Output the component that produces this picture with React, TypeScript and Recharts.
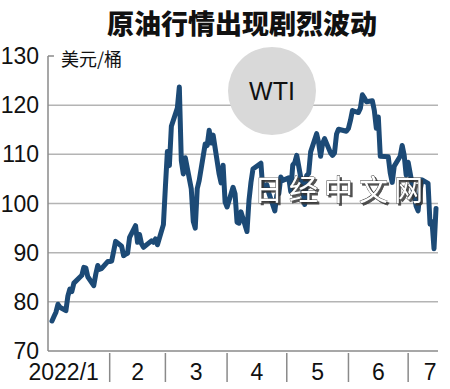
import React from "react";
import { LineChart, Line, XAxis, YAxis, ReferenceLine } from "recharts";

// WTI daily close, 2022 (month/day -> USD per barrel)
const DATES = [
  "1/3", "1/4", "1/5", "1/6", "1/7", "1/10", "1/11", "1/12", "1/13", "1/14",
  "1/18", "1/19", "1/20", "1/21", "1/24", "1/25", "1/26", "1/27", "1/28", "1/31",
  "2/1", "2/2", "2/3", "2/4", "2/7", "2/8", "2/9", "2/10", "2/11", "2/14",
  "2/15", "2/16", "2/17", "2/18", "2/22", "2/23", "2/24", "2/25", "2/28",
  "3/1", "3/2", "3/3", "3/4", "3/7", "3/8", "3/9", "3/10", "3/11", "3/14",
  "3/15", "3/16", "3/17", "3/18", "3/21", "3/22", "3/23", "3/24", "3/25", "3/28",
  "3/29", "3/30", "3/31",
  "4/1", "4/4", "4/5", "4/6", "4/7", "4/8", "4/11", "4/12", "4/13", "4/14",
  "4/18", "4/19", "4/20", "4/21", "4/22", "4/25", "4/26", "4/27", "4/28", "4/29",
  "5/2", "5/3", "5/4", "5/5", "5/6", "5/9", "5/10", "5/11", "5/12", "5/13",
  "5/16", "5/17", "5/18", "5/19", "5/20", "5/23", "5/24", "5/25", "5/26", "5/27",
  "5/31",
  "6/1", "6/2", "6/3", "6/6", "6/7", "6/8", "6/9", "6/10", "6/13", "6/14",
  "6/15", "6/16", "6/17", "6/21", "6/22", "6/23", "6/24", "6/27", "6/28", "6/29",
  "6/30",
  "7/1", "7/5", "7/6", "7/7", "7/8", "7/11", "7/12", "7/13", "7/14", "7/15",
];

const PRICES = [
  76.1, 77.0, 77.9, 79.5, 78.9, 78.2, 81.2, 82.6, 82.1, 83.8,
  85.4, 87.0, 86.9, 85.1, 83.3, 85.6, 87.4, 86.6, 86.8, 88.2,
  88.2, 88.3, 90.3, 92.3, 91.3, 89.4, 89.7, 89.9, 93.1, 95.5,
  92.1, 93.7, 91.8, 91.1, 92.4, 92.1, 92.8, 91.6, 95.7,
  103.4, 110.6, 107.7, 115.7, 119.4, 123.7, 108.7, 106.0, 109.3, 103.0,
  96.4, 95.0, 103.0, 104.7, 112.1, 111.8, 114.9, 112.3, 113.9, 106.0,
  104.2, 107.8, 100.3,
  99.3, 103.3, 102.0, 96.2, 96.0, 98.3, 94.3, 100.6, 104.3, 107.0,
  108.2, 102.6, 102.8, 103.8, 102.1, 98.5, 101.7, 102.0, 105.4, 104.7,
  105.2, 102.4, 107.8, 108.3, 109.8, 103.1, 99.8, 105.7, 106.1, 110.5,
  114.2, 112.4, 109.6, 112.2, 113.2, 110.3, 109.8, 110.3, 114.1, 115.1,
  114.7,
  115.3, 116.9, 118.9, 118.5, 119.4, 122.1, 121.5, 120.7, 120.9, 118.9,
  115.3, 117.6, 109.6, 109.5, 106.2, 104.3, 107.6, 109.6, 111.8, 109.8,
  105.8,
  108.4, 99.5, 98.5, 102.7, 104.8, 104.1, 95.8, 96.3, 90.8, 99.0,
];

const MONTH_LABELS = ["2022/1", "2", "3", "4", "5", "6", "7"];
const MONTH_DAYS = [31, 28, 31, 30, 31, 30, 31];
const Y_TICKS = [70, 80, 90, 100, 110, 120, 130];
const GRID_VALUES = [80, 90, 100, 110, 120];

const TITLE = "原油行情出现剧烈波动";
const UNIT = "美元/桶";
const BADGE = "WTI";
const WATERMARK = "日经中文网";

const NUM_FONT = "'Liberation Sans Narrow', 'Liberation Sans', Arial, sans-serif";
const CJK_FONT = "'Noto Sans CJK SC', 'Noto Sans', sans-serif";
const LINE_COLOR = "#1c4a76";
const AXIS_COLOR = "#8a8a8a";
const GRID_COLOR = "#b4b4b4";

// day index counted from Jan 1
const monthStart: number[] = [];
MONTH_DAYS.reduce((acc, d) => {
  monthStart.push(acc);
  return acc + d;
}, 0);

const dayOf = (s: string) => {
  const [m, d] = s.split("/").map(Number);
  return monthStart[m - 1] + d - 1;
};

const chartData = DATES.map((d, i) => ({ day: dayOf(d), price: PRICES[i] }));

const X_MAX = 196;
const separators = monthStart.slice(1, 7);
const labelTicks = MONTH_LABELS.map((_, i) => {
  const end = i < 6 ? monthStart[i + 1] : X_MAX;
  return (monthStart[i] + end) / 2;
});
const xTicks = [...separators, ...labelTicks].sort((a, b) => a - b);

const MonthTick = (props: any) => {
  const { x, y, payload } = props;
  const v = payload.value;
  if (separators.indexOf(v) >= 0) {
    return <line x1={x} x2={x} y1={y} y2={y + 29} stroke={AXIS_COLOR} strokeWidth={1.5} />;
  }
  const idx = labelTicks.indexOf(v);
  if (idx < 0) return null;
  let tx = x;
  let anchor: "middle" | "end" = "middle";
  if (idx === 0) {
    tx = x + 20;
    anchor = "end";
  } else if (idx === 6) {
    tx = x + 7;
  }
  return (
    <text x={tx} y={y + 27} textAnchor={anchor} fontFamily={NUM_FONT} fontSize={23} fill="#111">
      {MONTH_LABELS[idx]}
    </text>
  );
};

export default function App() {
  return (
    <div
      style={{
        position: "absolute",
        left: 0,
        top: 0,
        width: 450,
        height: 389,
        background: "#fff",
        overflow: "hidden",
      }}
    >
      <LineChart
        width={450}
        height={389}
        data={chartData}
        margin={{ top: 56, right: 12, left: 0, bottom: 0 }}
      >
        <XAxis
          dataKey="day"
          type="number"
          domain={[0, X_MAX]}
          ticks={xTicks}
          interval={0}
          height={38}
          axisLine={{ stroke: AXIS_COLOR, strokeWidth: 1.5 }}
          tickLine={false}
          tickSize={0}
          tick={<MonthTick />}
        />
        <YAxis
          type="number"
          domain={[70, 130]}
          ticks={Y_TICKS}
          interval={0}
          width={48}
          axisLine={{ stroke: AXIS_COLOR, strokeWidth: 1.5 }}
          tickLine={false}
          tickSize={0}
          tickMargin={9}
          tick={{ fontFamily: NUM_FONT, fontSize: 23, fill: "#111" }}
        />
        {GRID_VALUES.map((v) => (
          <ReferenceLine key={v} y={v} stroke={GRID_COLOR} strokeWidth={1.5} />
        ))}
        <ReferenceLine
          segment={[
            { x: 0, y: 130 },
            { x: 3, y: 130 },
          ]}
          stroke={AXIS_COLOR}
          strokeWidth={1.5}
        />
        <Line
          type="linear"
          dataKey="price"
          stroke={LINE_COLOR}
          strokeWidth={5}
          strokeLinejoin="round"
          strokeLinecap="round"
          dot={false}
          isAnimationActive={false}
        />
      </LineChart>
      <svg
        width={450}
        height={389}
        style={{ position: "absolute", left: 0, top: 0, pointerEvents: "none" }}
      >
        <defs>
          <filter id="wm-shadow" x="-10%" y="-30%" width="120%" height="160%">
            <feDropShadow dx={2} dy={2} stdDeviation={0.6} floodColor="#333" floodOpacity={0.85} />
          </filter>
        </defs>
        <text
          x={242}
          y={34}
          textAnchor="middle"
          fontFamily={CJK_FONT}
          fontWeight={900}
          fontSize={27}
          fill="#111"
        >
          {TITLE}
        </text>
        <text x={61} y={66} fontFamily={CJK_FONT} fontSize={18} fill="#111">
          {UNIT}
        </text>
        <circle cx={272} cy={91} r={44} fill="#d9d9d9" />
        <text
          x={272}
          y={100}
          textAnchor="middle"
          fontFamily="'Liberation Sans', Arial, sans-serif"
          fontSize={25}
          fill="#111"
        >
          {BADGE}
        </text>
        <text
          x={254}
          y={201}
          fontFamily={CJK_FONT}
          fontSize={29}
          letterSpacing={6}
          fill="#fff"
          stroke="#333"
          strokeWidth={0.8}
          paintOrder="stroke"
          filter="url(#wm-shadow)"
        >
          {WATERMARK}
        </text>
      </svg>
    </div>
  );
}
